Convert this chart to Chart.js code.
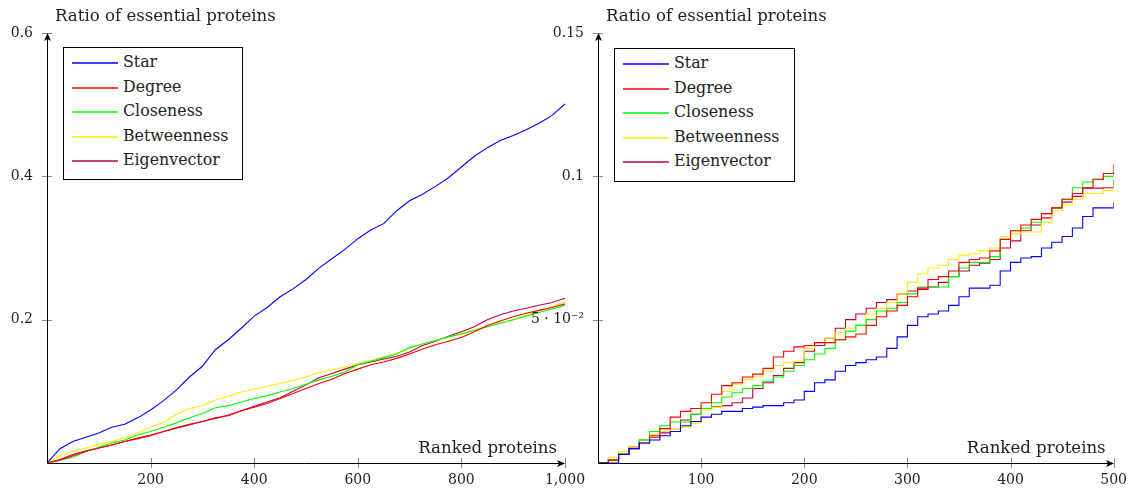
<!DOCTYPE html>
<html><head><meta charset="utf-8">
<script src="https://cdn.jsdelivr.net/npm/chart.js@4/dist/chart.umd.min.js"></script>
<style>
html,body{margin:0;padding:0;background:#fff;width:1136px;height:492px;overflow:hidden;position:relative;font-family:"DejaVu Serif",serif;color:#222;}
canvas{position:absolute;top:0;}
#cl{left:0;}
#cr{left:500px;}
.legend{position:absolute;border:1px solid #000;background:#fff;box-sizing:border-box;z-index:5;}
.legend canvas.sw{position:absolute;left:8px;top:0;}
.legend .lb{position:absolute;left:59px;white-space:nowrap;font-size:15.8px;line-height:18px;transform:translateY(-55%);}
</style>
</head><body>
<canvas id="cl" width="600" height="492"></canvas>
<canvas id="cr" width="636" height="492"></canvas>
<div class="legend" id="legL" style="left:63px;top:47px;width:180px;height:133px;"></div>
<div class="legend" id="legR" style="left:614px;top:48px;width:181px;height:134px;"></div>
<script>
// ---------- data ----------
const seriesNames = ["Star","Degree","Closeness","Betweenness","Eigenvector"];
const seriesColors = ["#0000ff","#ff0000","#00ff00","#ffee00","#bf0040"];

// Left panel: top 1000 ranked proteins
const leftRanks = [0,25,50,75,100,125,150,175,200,225,250,275,300,325,350,375,400,425,450,475,500,525,550,575,600,625,650,675,700,725,750,775,800,825,850,875,900,925,950,975,1000];
const leftStar = [0,0.02,0.03,0.036,0.042,0.05,0.054,0.063,0.074,0.087,0.102,0.12,0.135,0.158,0.172,0.188,0.205,0.217,0.232,0.243,0.256,0.272,0.285,0.298,0.313,0.325,0.334,0.352,0.366,0.375,0.386,0.398,0.413,0.428,0.44,0.45,0.457,0.465,0.474,0.485,0.501];
const leftDegree = [0,0.004,0.01,0.016,0.021,0.025,0.03,0.034,0.038,0.044,0.049,0.053,0.058,0.063,0.066,0.073,0.078,0.083,0.09,0.097,0.104,0.111,0.117,0.125,0.131,0.137,0.141,0.146,0.152,0.159,0.165,0.17,0.175,0.183,0.192,0.198,0.204,0.209,0.213,0.217,0.222];
const leftCloseness = [0,0.004,0.008,0.016,0.022,0.028,0.032,0.039,0.044,0.05,0.056,0.063,0.069,0.077,0.08,0.085,0.09,0.094,0.099,0.104,0.11,0.116,0.121,0.127,0.137,0.142,0.147,0.152,0.161,0.166,0.171,0.176,0.18,0.185,0.19,0.195,0.2,0.205,0.21,0.215,0.22];
const leftBetweenness = [0,0.01,0.016,0.021,0.026,0.03,0.035,0.042,0.05,0.057,0.068,0.076,0.08,0.088,0.093,0.099,0.103,0.107,0.111,0.115,0.12,0.126,0.13,0.134,0.139,0.143,0.148,0.153,0.16,0.166,0.171,0.175,0.181,0.186,0.19,0.196,0.2,0.206,0.212,0.218,0.225];
const leftEigenvector = [0,0.005,0.012,0.017,0.021,0.025,0.03,0.035,0.039,0.044,0.049,0.054,0.058,0.062,0.067,0.073,0.079,0.085,0.091,0.1,0.109,0.119,0.125,0.131,0.137,0.141,0.145,0.149,0.155,0.164,0.17,0.177,0.183,0.19,0.2,0.207,0.212,0.216,0.22,0.224,0.23];

// Right panel: top 500 ranked proteins
const rightRanks = [0,10,20,30,40,50,60,70,80,90,100,110,120,130,140,150,160,170,180,190,200,210,220,230,240,250,260,270,280,290,300,310,320,330,340,350,360,370,380,390,400,410,420,430,440,450,460,470,480,490,500];
const rightStar = [0,0,0.003,0.005,0.007,0.008,0.0095,0.011,0.013,0.0145,0.016,0.017,0.018,0.018,0.019,0.0195,0.02,0.02,0.021,0.022,0.025,0.028,0.029,0.032,0.034,0.035,0.036,0.037,0.04,0.044,0.048,0.051,0.052,0.053,0.055,0.058,0.061,0.061,0.062,0.067,0.07,0.0715,0.072,0.075,0.077,0.079,0.082,0.086,0.089,0.089,0.091];
const rightDegree = [0,0.001,0.003,0.005,0.007,0.009,0.012,0.016,0.018,0.019,0.021,0.024,0.027,0.028,0.03,0.031,0.033,0.037,0.039,0.0405,0.041,0.042,0.042,0.043,0.044,0.045,0.048,0.051,0.053,0.055,0.058,0.061,0.064,0.065,0.067,0.07,0.071,0.0715,0.074,0.078,0.081,0.083,0.085,0.087,0.089,0.092,0.094,0.096,0.099,0.101,0.104];
const rightCloseness = [0,0.001,0.003,0.005,0.008,0.011,0.013,0.0143,0.0143,0.017,0.019,0.021,0.023,0.0245,0.026,0.027,0.0285,0.03,0.032,0.034,0.036,0.038,0.04,0.043,0.046,0.048,0.05,0.053,0.054,0.056,0.059,0.0614,0.0614,0.0614,0.065,0.068,0.07,0.07,0.072,0.078,0.081,0.082,0.084,0.087,0.089,0.092,0.096,0.098,0.099,0.1,0.1015];
const rightBetweenness = [0,0.002,0.004,0.0056,0.008,0.01,0.011,0.012,0.0125,0.014,0.0185,0.0195,0.025,0.0275,0.029,0.03,0.032,0.034,0.035,0.0355,0.04,0.042,0.0435,0.0455,0.047,0.048,0.052,0.054,0.056,0.059,0.063,0.066,0.068,0.069,0.071,0.0725,0.073,0.074,0.075,0.079,0.08,0.0806,0.0806,0.084,0.088,0.09,0.092,0.094,0.094,0.095,0.098];
const rightEigenvector = [0,0.001,0.003,0.0056,0.008,0.0095,0.0105,0.012,0.015,0.017,0.019,0.0197,0.02,0.021,0.0227,0.026,0.028,0.0305,0.033,0.035,0.039,0.041,0.0435,0.047,0.05,0.052,0.054,0.056,0.057,0.059,0.06,0.0605,0.0614,0.063,0.065,0.067,0.069,0.0697,0.071,0.075,0.0775,0.081,0.083,0.0855,0.089,0.091,0.093,0.0959,0.0959,0.096,0.0987];

// ticks
const leftXTicks = [200,400,600,800,1000];
const leftXLabels = ["200","400","600","800","1,000"];
const leftYTicks = [0.2,0.4,0.6];
const leftYLabels = ["0.2","0.4","0.6"];
const rightXTicks = [100,200,300,400,500];
const rightXLabels = ["100","200","300","400","500"];
const rightYTicks = [0.05,0.1,0.15];
const rightYLabels = ["5 · 10⁻²","0.1","0.15"];

const yTitle = "Ratio of essential proteins";
const xTitle = "Ranked proteins";

// ---------- rendering ----------
const FAMILY = '"DejaVu Serif", serif';
const TEXT_COLOR = '#222';
Chart.defaults.font.family = FAMILY;

const axisDeco = {
  id: 'axisDeco',
  afterDatasetsDraw(chart, args, o) {
    const {ctx, chartArea: a, scales: {x, y}} = chart;
    ctx.save();
    ctx.strokeStyle = '#8a8a8a'; ctx.lineWidth = 1;
    y.ticks.forEach(t => {
      const py = Math.round(y.getPixelForValue(t.value)) + 0.5;
      ctx.beginPath(); ctx.moveTo(a.left - 5, py); ctx.lineTo(a.left + 5, py); ctx.stroke();
    });
    x.ticks.forEach(t => {
      const px = Math.round(x.getPixelForValue(t.value)) + 0.5;
      ctx.beginPath(); ctx.moveTo(px, a.bottom - 5); ctx.lineTo(px, a.bottom + 5); ctx.stroke();
    });
    const L = Math.round(a.left) + 0.5, B = Math.round(a.bottom) + 0.5;
    const T = Math.round(a.top), R = Math.round(a.right);
    ctx.strokeStyle = '#000'; ctx.lineWidth = 1;
    ctx.beginPath(); ctx.moveTo(L, B); ctx.lineTo(L, T + 3); ctx.stroke();
    ctx.beginPath(); ctx.moveTo(L, B); ctx.lineTo(R - 3, B); ctx.stroke();
    ctx.fillStyle = '#000';
    ctx.beginPath(); ctx.moveTo(L, T); ctx.lineTo(L - 3.5, T + 8); ctx.lineTo(L, T + 6); ctx.lineTo(L + 3.5, T + 8); ctx.closePath(); ctx.fill();
    ctx.beginPath(); ctx.moveTo(R, B); ctx.lineTo(R - 8, B - 3.5); ctx.lineTo(R - 6, B); ctx.lineTo(R - 8, B + 3.5); ctx.closePath(); ctx.fill();
    ctx.fillStyle = TEXT_COLOR;
    ctx.font = '16.6px ' + FAMILY;
    ctx.textBaseline = 'alphabetic';
    ctx.textAlign = 'left';
    ctx.fillText(o.yTitle, a.left + 8, a.top - 12);
    ctx.textAlign = 'right';
    ctx.fillText(o.xTitle, a.right - 8, a.bottom - 10);
    ctx.restore();
  }
};

function makeChart(id, cfg) {
  const datasets = seriesNames.map((n, i) => ({
    label: n,
    data: cfg.xs.map((xv, j) => ({x: xv, y: cfg.vals[i][j]})),
    borderColor: seriesColors[i],
    backgroundColor: seriesColors[i],
    borderWidth: 1.1,
    pointRadius: 0,
    tension: 0,
    fill: false,
    stepped: cfg.stepped
  }));
  return new Chart(document.getElementById(id), {
    type: 'line',
    data: {datasets},
    plugins: [axisDeco],
    options: {
      responsive: false, animation: false, events: [],
      layout: {padding: {left: 0, top: 33, right: cfg.padRight, bottom: 0}},
      plugins: {legend: {display: false}, tooltip: {enabled: false},
        axisDeco: {yTitle, xTitle}},
      scales: {
        x: {
          type: 'linear', min: 0, max: cfg.xMax,
          grid: {display: false, drawTicks: false}, border: {display: false},
          afterBuildTicks: s => { s.ticks = cfg.xTicks.map(v => ({value: v})); },
          afterFit: s => { s.height = 29; },
          ticks: {autoSkip: false, maxRotation: 0, padding: 9, color: TEXT_COLOR,
            font: {size: 14}, callback: (v, i) => cfg.xLabels[i]}
        },
        y: {
          type: 'linear', min: 0, max: cfg.yMax,
          grid: {display: false, drawTicks: false}, border: {display: false},
          afterBuildTicks: s => { s.ticks = cfg.yTicks.map(v => ({value: v})); },
          afterFit: s => { s.width = cfg.axisLeft; },
          ticks: {autoSkip: false, padding: 14, color: TEXT_COLOR,
            font: {size: 14}, callback: (v, i) => cfg.yLabels[i]}
        }
      }
    }
  });
}

makeChart('cl', {
  xs: leftRanks,
  vals: [leftStar, leftDegree, leftCloseness, leftBetweenness, leftEigenvector],
  xMax: 1000, yMax: 0.6, stepped: false,
  xTicks: leftXTicks, xLabels: leftXLabels, yTicks: leftYTicks, yLabels: leftYLabels,
  axisLeft: 47, padRight: 35
});
makeChart('cr', {
  xs: rightRanks,
  vals: [rightStar, rightDegree, rightCloseness, rightBetweenness, rightEigenvector],
  xMax: 500, yMax: 0.15, stepped: true,
  xTicks: rightXTicks, xLabels: rightXLabels, yTicks: rightYTicks, yLabels: rightYLabels,
  axisLeft: 98, padRight: 19
});

// legend: swatch lines drawn on a small canvas (same stroke as the data), labels as HTML text
function buildLegend(id) {
  const box = document.getElementById(id);
  const sw = document.createElement('canvas');
  sw.className = 'sw'; sw.width = 48; sw.height = 130;
  box.appendChild(sw);
  const c = sw.getContext('2d');
  seriesNames.forEach((n, i) => {
    const cy = Math.round(15 + i * 24.5);
    c.strokeStyle = seriesColors[i]; c.lineWidth = 1.3;
    c.beginPath(); c.moveTo(0, cy); c.lineTo(46, cy); c.stroke();
    const lb = document.createElement('div');
    lb.className = 'lb'; lb.style.top = cy + 'px'; lb.textContent = n;
    box.appendChild(lb);
  });
}
buildLegend('legL');
buildLegend('legR');
</script>
</body></html>
